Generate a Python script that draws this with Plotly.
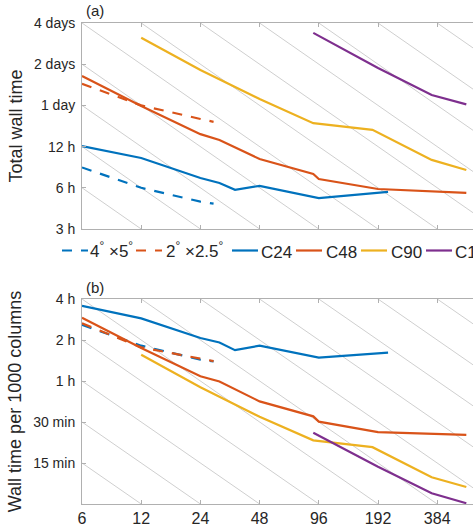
import math
import plotly.graph_objects as go

# ---------------- data ----------------
cores_4x5 = [6, 12, 24, 28]
total_4x5_h = [8.45, 6.0, 4.75, 4.6]
per1000_4x5_min = [155, 109, 86, 83.5]

cores_2x25 = [6, 12, 24, 28]
total_2x25_h = [34.5, 24.0, 19.1, 18.2]
per1000_2x25_min = [159, 106, 87.5, 84]

cores_c24 = [6, 12, 24, 30, 36, 48, 96, 192, 216]
total_c24_h = [12.1, 9.9, 7.07, 6.5, 5.8, 6.2, 5.05, 5.5, 5.6]
per1000_c24_min = [214, 173, 124, 115, 101, 109, 89, 95, 97]

cores_c48 = [6, 12, 24, 30, 48, 90, 96, 192, 540]
total_c48_h = [39.4, 23.8, 14.8, 13.4, 9.74, 7.57, 6.96, 5.88, 5.5]
per1000_c48_min = [175, 105, 65, 59.5, 42.5, 33, 30.2, 25.3, 24.1]

cores_c90 = [12, 24, 48, 90, 180, 360, 540]
total_c90_h = [75, 43.6, 26.7, 17.8, 15.9, 9.6, 8.1]
per1000_c90_min = [93.5, 54, 32.8, 22, 19.6, 11.8, 10]

cores_c180 = [90, 192, 360, 540]
total_c180_h = [81.3, 45, 28.6, 24.4]
per1000_c180_min = [25, 14.1, 9.0, 7.6]

x_tick_vals = [6, 12, 24, 48, 96, 192, 384]
x_tick_text = ["6", "12", "24", "48", "96", "192", "384"]
top_tick_vals_h = [3, 6, 12, 24, 48, 96]
top_tick_text = ["3 h", "6 h", "12 h", "1 day", "2 days", "4 days"]
bottom_tick_vals_min = [15, 30, 60, 120, 240]
bottom_tick_text = ["15 min", "30 min", "1 h", "2 h", "4 h"]

# ideal-scaling guide lines: value at 6 cores
guide_top_h_at6 = [3, 6, 12, 24, 48, 96, 192, 384, 768, 1536, 3072, 6144]
guide_bottom_min_at6 = [7.5, 15, 30, 60, 120, 240, 480, 960, 1920, 3840, 7680, 15360]

series_names = ["4°×5°", "2°×2.5°", "C24", "C48", "C90", "C180"]
legend_labels = ["4<sup>°</sup> ×5<sup>°</sup>", "2<sup>°</sup> ×2.5<sup>°</sup>",
                 "C24", "C48", "C90", "C180"]

# ---------------- styling ----------------
BLUE, ORANGE, YELLOW, PURPLE = "#0072BD", "#D95319", "#EDB120", "#7E2F8E"
FONT = "Liberation Sans, Arial, sans-serif"
TXT = "#262626"
AXC = "#b0b0b0"
GUIDE = "#cfcfcf"
DASH = "10px,9px"
LW = 2.2

W, H = 473, 527
ML, MR, MT, MB = 82, 0, 23, 23
PW, PH = W - ML - MR, H - MT - MB
px_per_doubling = 59.2
x_range = [math.log10(6), math.log10(6) + PW / px_per_doubling * math.log10(2)]


def py2paper(py):
    return (H - MB - py) / PH


def px2paper(px):
    return (px - ML) / PW


top_dom = [py2paper(229), 1.0]
bot_dom = [0.0, py2paper(299)]

fig = go.Figure()

# guide lines
gx = [6, 2000]
for a in guide_top_h_at6:
    fig.add_trace(go.Scatter(x=gx, y=[a * 6 / x for x in gx], mode="lines",
                             line=dict(color=GUIDE, width=1), hoverinfo="skip",
                             showlegend=False, xaxis="x", yaxis="y"))
for a in guide_bottom_min_at6:
    fig.add_trace(go.Scatter(x=gx, y=[a * 6 / x for x in gx], mode="lines",
                             line=dict(color=GUIDE, width=1), hoverinfo="skip",
                             showlegend=False, xaxis="x2", yaxis="y2"))

series = [
    (cores_4x5, total_4x5_h, per1000_4x5_min, BLUE, DASH),
    (cores_2x25, total_2x25_h, per1000_2x25_min, ORANGE, DASH),
    (cores_c24, total_c24_h, per1000_c24_min, BLUE, "solid"),
    (cores_c48, total_c48_h, per1000_c48_min, ORANGE, "solid"),
    (cores_c90, total_c90_h, per1000_c90_min, YELLOW, "solid"),
    (cores_c180, total_c180_h, per1000_c180_min, PURPLE, "solid"),
]
for name, (c, top, bot, col, dash) in zip(series_names, series):
    fig.add_trace(go.Scatter(x=c, y=top, mode="lines", name=name,
                             line=dict(color=col, width=LW, dash=dash),
                             showlegend=False, xaxis="x", yaxis="y"))
    fig.add_trace(go.Scatter(x=c, y=bot, mode="lines", name=name,
                             line=dict(color=col, width=LW, dash=dash),
                             showlegend=False, xaxis="x2", yaxis="y2"))

common_x = dict(type="log", range=x_range, tickvals=x_tick_vals, ticktext=x_tick_text,
                showline=True, linecolor=AXC, linewidth=1, mirror="ticks",
                ticks="inside", ticklen=4, tickcolor=AXC, showgrid=False, zeroline=False,
                tickfont=dict(family=FONT, size=16, color=TXT))
common_y = dict(type="log", showline=True, linecolor=AXC, linewidth=1, mirror=False,
                ticks="inside", ticklen=4, tickcolor=AXC, showgrid=False, zeroline=False,
                tickfont=dict(family=FONT, size=14, color=TXT), ticklabelstandoff=3)

fig.update_layout(
    width=W, height=H, margin=dict(l=ML, r=MR, t=MT, b=MB),
    paper_bgcolor="white", plot_bgcolor="white", showlegend=False,
    font=dict(family=FONT, color=TXT),
    xaxis=dict(common_x, domain=[0, 1], anchor="y", showticklabels=False),
    yaxis=dict(common_y, domain=top_dom, anchor="x",
               range=[math.log10(3), math.log10(96)],
               tickvals=top_tick_vals_h, ticktext=top_tick_text,
               title=dict(text="Total wall time", standoff=6,
                          font=dict(family=FONT, size=18, color=TXT))),
    xaxis2=dict(common_x, domain=[0, 1], anchor="y2", showticklabels=True),
    yaxis2=dict(common_y, domain=bot_dom, anchor="x2",
                range=[math.log10(7.5), math.log10(240)],
                tickvals=bottom_tick_vals_min, ticktext=bottom_tick_text,
                title=dict(text="Wall time per 1000 columns", standoff=6,
                           font=dict(family=FONT, size=18, color=TXT))),
)

annotations = [
    dict(text="(a)", x=px2paper(85), y=py2paper(10)),
    dict(text="(b)", x=px2paper(85), y=py2paper(287)),
]
for a in annotations:
    a.update(xref="paper", yref="paper", xanchor="left", yanchor="middle",
             showarrow=False, borderpad=0, font=dict(family=FONT, size=15, color=TXT))

# manual horizontal legend (cropped at the right edge, like the reference)
legend_line_x0 = [62, 136, 232, 296, 361, 426]
legend_text_x = [89, 165, 260, 325, 390, 454]
legend_colors = [BLUE, ORANGE, BLUE, ORANGE, YELLOW, PURPLE]
legend_dash = [DASH, DASH, "solid", "solid", "solid", "solid"]
leg_y = 250.5
shapes = []
for x0, tx, lab, col, d in zip(legend_line_x0, legend_text_x, legend_labels,
                               legend_colors, legend_dash):
    shapes.append(dict(type="line", xref="paper", yref="paper",
                       x0=px2paper(x0), x1=px2paper(x0 + 26),
                       y0=py2paper(leg_y), y1=py2paper(leg_y),
                       line=dict(color=col, width=LW, dash=d)))
    ty = leg_y + 1.5 if "sup" not in lab else leg_y - 1
    annotations.append(dict(text=lab, x=px2paper(tx), y=py2paper(ty),
                            xref="paper", yref="paper", xanchor="left",
                            yanchor="middle", showarrow=False, borderpad=0,
                            font=dict(family=FONT, size=17, color=TXT)))

fig.update_layout(annotations=annotations, shapes=shapes)
fig.write_html("out.html")
